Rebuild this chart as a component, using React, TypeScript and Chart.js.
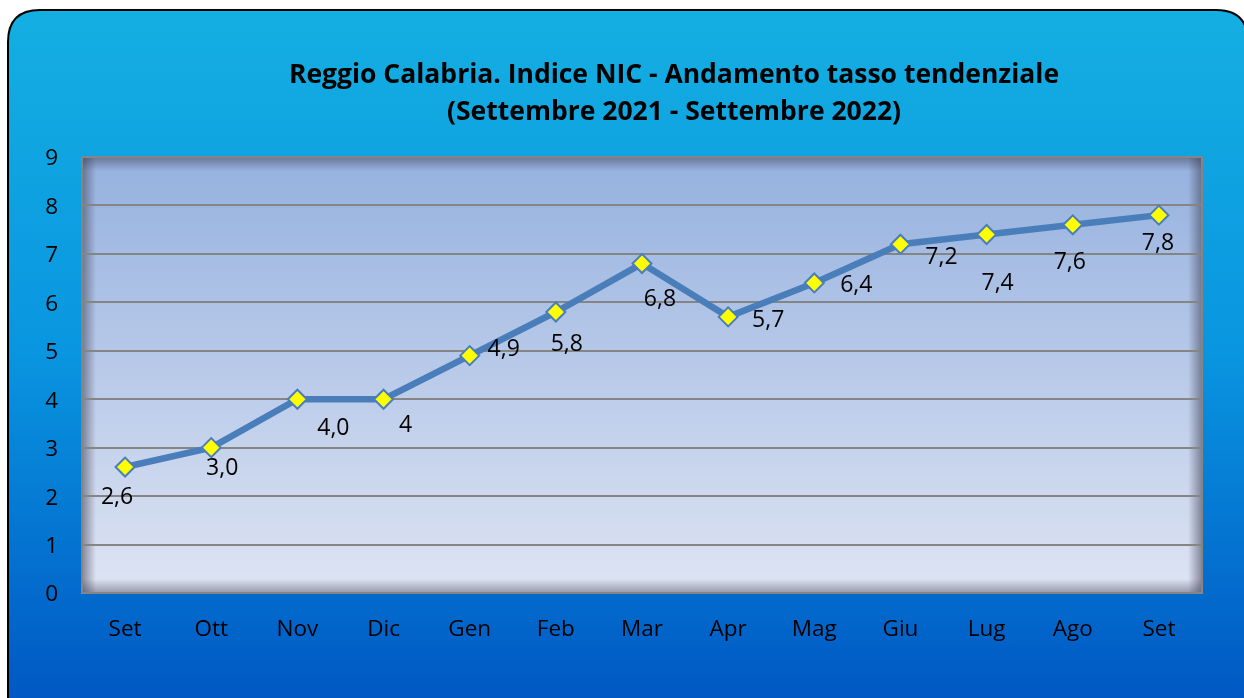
import React, { useEffect, useRef } from "react";
import { Chart, registerables } from "chart.js";

Chart.register(...registerables);

const categories = ["Set", "Ott", "Nov", "Dic", "Gen", "Feb", "Mar", "Apr", "Mag", "Giu", "Lug", "Ago", "Set"];
const values = [2.6, 3.0, 4.0, 4.0, 4.9, 5.8, 6.8, 5.7, 6.4, 7.2, 7.4, 7.6, 7.8];
const valueLabels = ["2,6", "3,0", "4,0", "4", "4,9", "5,8", "6,8", "5,7", "6,4", "7,2", "7,4", "7,6", "7,8"];
const titleLines = ["Reggio Calabria. Indice NIC - Andamento tasso tendenziale", "(Settembre 2021 - Settembre 2022)"];
const yTicks = [0, 1, 2, 3, 4, 5, 6, 7, 8, 9];

// label placement offsets (px) relative to each marker
const labelOffsets: [number, number][] = [
  [-8, 29], [11, 20], [36, 28], [22, 25], [34, -7], [11, 31], [18, 35], [40, 3], [42, 1], [41, 12], [11, 48], [-3, 37], [-1, 27],
];

const FONT = "'Open Sans', 'Liberation Sans', sans-serif";

function roundRect(ctx: CanvasRenderingContext2D, x: number, y: number, w: number, h: number, r: number) {
  ctx.beginPath();
  ctx.moveTo(x + r, y);
  ctx.lineTo(x + w - r, y);
  ctx.quadraticCurveTo(x + w, y, x + w, y + r);
  ctx.lineTo(x + w, y + h - r);
  ctx.quadraticCurveTo(x + w, y + h, x + w - r, y + h);
  ctx.lineTo(x + r, y + h);
  ctx.quadraticCurveTo(x, y + h, x, y + h - r);
  ctx.lineTo(x, y + r);
  ctx.quadraticCurveTo(x, y, x + r, y);
  ctx.closePath();
}

const decorPlugin = {
  id: "decor",
  beforeDraw(chart: any) {
    const ctx: CanvasRenderingContext2D = chart.ctx;
    const { width, height } = chart;
    ctx.save();
    ctx.fillStyle = "#ffffff";
    ctx.fillRect(0, 0, width, height);
    const g = ctx.createLinearGradient(0, 10, 0, height);
    g.addColorStop(0, "#14AFE2");
    g.addColorStop(0.5, "#0995E0");
    g.addColorStop(1, "#0058C4");
    roundRect(ctx, 8, 10, 1240, 720, 32);
    ctx.fillStyle = g;
    ctx.fill();
    ctx.lineWidth = 2;
    ctx.strokeStyle = "#000000";
    ctx.stroke();

    const a = chart.chartArea;
    const pg = ctx.createLinearGradient(0, a.top, 0, a.bottom);
    pg.addColorStop(0, "#95B1DF");
    pg.addColorStop(1, "#DEE4F3");
    ctx.fillStyle = pg;
    ctx.fillRect(a.left, a.top, a.right - a.left, a.bottom - a.top);
    // inner shadow
    const s = 14;
    const gl = ctx.createLinearGradient(a.left, 0, a.left + s, 0);
    gl.addColorStop(0, "rgba(60,60,80,0.55)");
    gl.addColorStop(1, "rgba(60,60,80,0)");
    ctx.fillStyle = gl;
    ctx.fillRect(a.left, a.top, s, a.bottom - a.top);
    const gr = ctx.createLinearGradient(a.right, 0, a.right - s, 0);
    gr.addColorStop(0, "rgba(60,60,80,0.55)");
    gr.addColorStop(1, "rgba(60,60,80,0)");
    ctx.fillStyle = gr;
    ctx.fillRect(a.right - s, a.top, s, a.bottom - a.top);
    const gt = ctx.createLinearGradient(0, a.top, 0, a.top + s);
    gt.addColorStop(0, "rgba(60,60,80,0.5)");
    gt.addColorStop(1, "rgba(60,60,80,0)");
    ctx.fillStyle = gt;
    ctx.fillRect(a.left, a.top, a.right - a.left, s);
    const gb = ctx.createLinearGradient(0, a.bottom, 0, a.bottom - s);
    gb.addColorStop(0, "rgba(60,60,80,0.45)");
    gb.addColorStop(1, "rgba(60,60,80,0)");
    ctx.fillStyle = gb;
    ctx.fillRect(a.left, a.bottom - s, a.right - a.left, s);

    // title
    ctx.fillStyle = "#000000";
    ctx.font = `bold 26.5px ${FONT}`;
    ctx.textAlign = "center";
    ctx.textBaseline = "middle";
    ctx.fillText(titleLines[0], 674, 75);
    ctx.fillText(titleLines[1], 674, 112);
    ctx.restore();
  },
  afterDraw(chart: any) {
    const ctx: CanvasRenderingContext2D = chart.ctx;
    const a = chart.chartArea;
    ctx.save();
    ctx.strokeStyle = "#858585";
    ctx.lineWidth = 2;
    ctx.strokeRect(a.left, a.top, a.right - a.left, a.bottom - a.top);
    const meta = chart.getDatasetMeta(0);
    ctx.fillStyle = "#000000";
    ctx.font = `23px ${FONT}`;
    ctx.textAlign = "center";
    ctx.textBaseline = "middle";
    meta.data.forEach((pt: any, i: number) => {
      const [dx, dy] = labelOffsets[i];
      ctx.fillText(valueLabels[i], pt.x + dx, pt.y + dy + 1);
    });
    ctx.restore();
  },
};

export default function App() {
  const ref = useRef<HTMLCanvasElement>(null);
  useEffect(() => {
    const chart = new Chart(ref.current!, {
      type: "line",
      data: {
        labels: categories,
        datasets: [
          {
            data: values,
            borderColor: "#4A7EBB",
            borderWidth: 6.5,
            pointStyle: "rectRot",
            pointRadius: 9.5,
            pointBackgroundColor: "#FFFF00",
            pointBorderColor: "#4A7EBB",
            pointBorderWidth: 2,
            tension: 0,
          },
        ],
      },
      options: {
        responsive: false,
        animation: false,
        events: [],
        layout: { padding: { left: 8, right: 42, top: 157, bottom: 0 } },
        plugins: { legend: { display: false }, title: { display: false }, tooltip: { enabled: false } },
        scales: {
          x: {
            offset: true,
            grid: { display: false, drawTicks: false },
            border: { display: false },
            ticks: { color: "#000", font: { family: FONT, size: 22.5 }, padding: 23 },
            afterFit: (s: any) => { s.height = 105; },
          },
          y: {
            min: 0,
            max: 9,
            afterBuildTicks: (s: any) => { s.ticks = yTicks.map((v) => ({ value: v })); },
            grid: { color: "#858585", lineWidth: 2, drawTicks: false },
            border: { display: false },
            ticks: { color: "#000", font: { family: FONT, size: 22.5 }, padding: 24, labelOffset: 2 },
            afterFit: (s: any) => { s.width = 74; },
          },
        },
      },
      plugins: [decorPlugin],
    });
    return () => chart.destroy();
  }, []);
  return (
    <div style={{ position: "fixed", left: 0, top: 0, width: 1244, height: 698 }}>
      <canvas ref={ref} width={1244} height={698} style={{ display: "block" }} />
    </div>
  );
}
